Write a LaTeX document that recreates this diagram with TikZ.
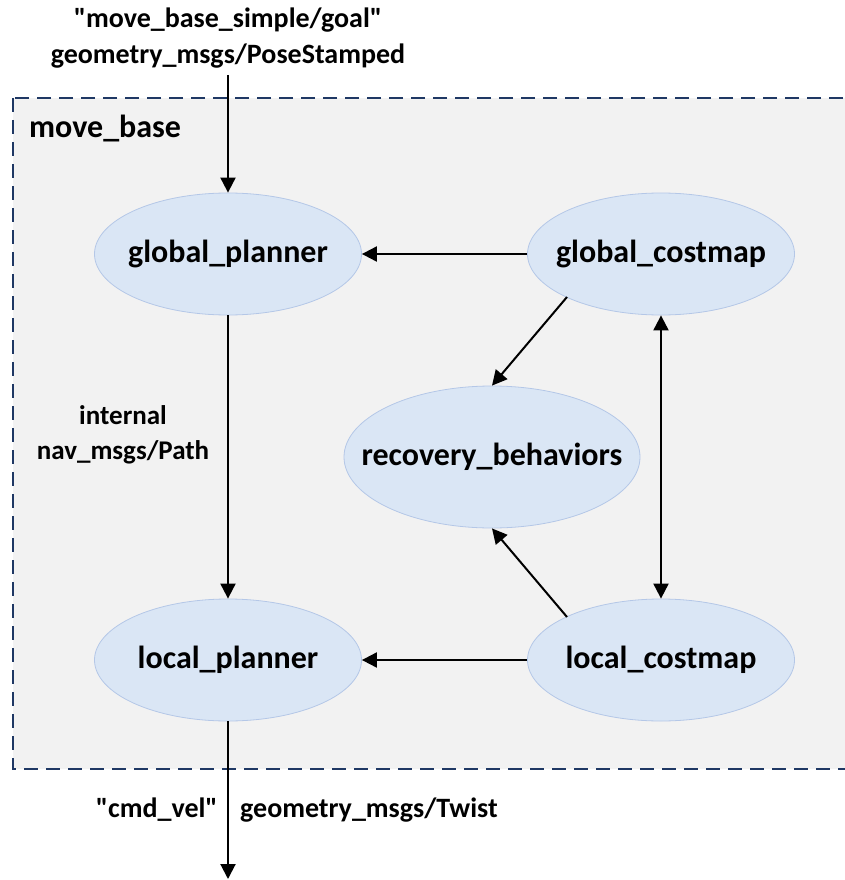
\documentclass[tikz,border=0pt]{standalone}
\usepackage{fontspec}
\setmainfont{Carlito}[Ligatures=TeXOff]
\usetikzlibrary{shapes.geometric,arrows.meta}
\definecolor{boxfill}{RGB}{242,242,242}
\definecolor{boxline}{RGB}{31,56,100}
\definecolor{nodefill}{RGB}{218,230,245}
\definecolor{nodeline}{RGB}{180,199,231}
% label of zero width, so the ellipse keeps its set size
\newcommand\ellipselabel[1]{\makebox[0pt]{#1}}
\tikzset{
  rosnode/.style={ellipse, draw=nodeline, line width=0.8pt, fill=nodefill,
    inner sep=0pt, minimum width=267pt, minimum height=122pt,
    font=\bfseries\fontsize{32}{36}\selectfont},
  flow/.style={line width=2pt, -{Triangle[length=15pt,width=15pt]}},
  both/.style={line width=2pt, {Triangle[length=15pt,width=15pt]}-{Triangle[length=15pt,width=15pt]}},
  lbl/.style={font=\bfseries\fontsize{28}{32}\selectfont, inner sep=0pt}
}
\begin{document}
\begin{tikzpicture}[x=1pt,y=-1pt]
\useasboundingbox (0,0) rectangle (845,880);
% move_base container
\draw[boxline, fill=boxfill, line width=2.6pt, dash pattern=on 14pt off 8pt]
  (13,98) rectangle (846,769);
\node[lbl, anchor=west, font=\bfseries\fontsize{32}{36}\selectfont] (mb) at (29,129) {move\_base};

% nodes
\node[rosnode] (gp) at (228,254) {\ellipselabel{global\_planner}};
\node[rosnode] (gc) at (661,254) {\ellipselabel{global\_costmap}};
\node[rosnode, minimum width=296pt, minimum height=142pt] (rb) at (492,457) {\ellipselabel{recovery\_behaviors}};
\node[rosnode] (lp) at (228,660) {\ellipselabel{local\_planner}};
\node[rosnode] (lc) at (661,660) {\ellipselabel{local\_costmap}};

% external topics
\node[lbl] (goal) at (228,20) {"move\_base\_simple/goal"};
\node[lbl] (goaltype) at (228,56) {geometry\_msgs/PoseStamped};
\coordinate (in) at (228,75);
\coordinate (out) at (228,879);
\node[lbl, anchor=east] (cmd) at (218,810) {"cmd\_vel"};
\node[lbl, anchor=west] (twist) at (240,810) {geometry\_msgs/Twist};
\node[lbl, align=center, font=\bfseries\fontsize{27}{35}\selectfont] (path) at (123,435) {internal\\nav\_msgs/Path};

% start points of the diagonal connectors
\coordinate (gcs) at (567,297);
\coordinate (lcn) at (567,617);

% connectors
\draw[flow] (in) -- (gp.north);
\draw[flow] (gc.west) -- (gp.east);
\draw[flow] (gp.south) -- (lp.north);
\draw[flow] (gcs) -- (rb.north);
\draw[flow] (lcn) -- (rb.south);
\draw[both] (gc.south) -- (lc.north);
\draw[flow] (lc.west) -- (lp.east);
\draw[flow] (lp.south) -- (out);
\end{tikzpicture}
\end{document}
